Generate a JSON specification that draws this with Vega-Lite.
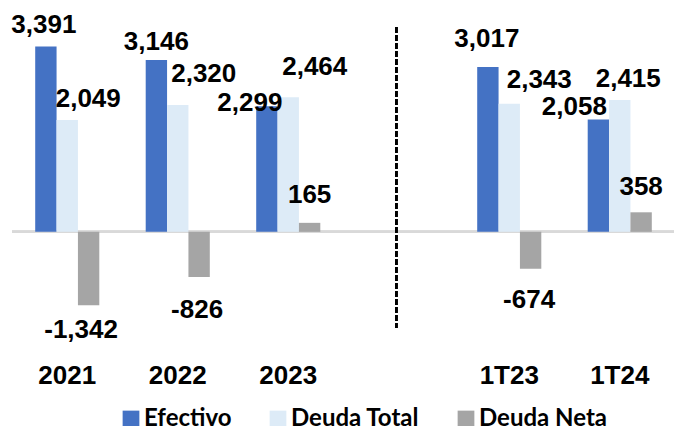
{
  "$schema": "https://vega.github.io/schema/vega-lite/v6.json",
  "width": 663,
  "height": 301,
  "autosize": "none",
  "padding": {"left": 12, "top": 27, "right": 0, "bottom": 98},
  "config": {
    "view": {"stroke": null},
    "locale": {"number": {"decimal": ".", "thousands": ",", "grouping": [3], "currency": ["$", ""], "minus": "-"}}
  },
  "data": {
    "values": [
      {"period": "2021", "series": "Efectivo", "value": 3391},
      {"period": "2021", "series": "Deuda Total", "value": 2049},
      {"period": "2021", "series": "Deuda Neta", "value": -1342},
      {"period": "2022", "series": "Efectivo", "value": 3146},
      {"period": "2022", "series": "Deuda Total", "value": 2320},
      {"period": "2022", "series": "Deuda Neta", "value": -826},
      {"period": "2023", "series": "Efectivo", "value": 2299},
      {"period": "2023", "series": "Deuda Total", "value": 2464},
      {"period": "2023", "series": "Deuda Neta", "value": 165},
      {"period": "1T23", "series": "Efectivo", "value": 3017},
      {"period": "1T23", "series": "Deuda Total", "value": 2343},
      {"period": "1T23", "series": "Deuda Neta", "value": -674},
      {"period": "1T24", "series": "Efectivo", "value": 2058},
      {"period": "1T24", "series": "Deuda Total", "value": 2415},
      {"period": "1T24", "series": "Deuda Neta", "value": 358}
    ]
  },
  "layer": [
    {
      "mark": {"type": "rule", "color": "#D9D9D9", "strokeWidth": 2},
      "encoding": {"y": {"datum": 0, "type": "quantitative", "scale": {"domain": [-1760, 3750], "nice": false, "zero": false}, "axis": null}}
    },
    {
      "mark": {"type": "rule", "color": "#000000", "strokeWidth": 2, "strokeDash": [6, 2]},
      "encoding": {"x": {"datum": " ", "type": "nominal", "bandPosition": 0.46}}
    },
    {
      "encoding": {
        "x": {
          "field": "period", "type": "nominal",
          "scale": {"domain": ["2021", "2022", "2023", " ", "1T23", "1T24"], "paddingInner": 0.42, "paddingOuter": 0.21},
          "axis": {"title": null, "domain": false, "ticks": false, "labelAngle": 0, "labelAlign": "center", "labelFont": "Liberation Sans", "labelFontWeight": "bold", "labelFontSize": 26, "labelColor": "#000000", "labelBaseline": "alphabetic", "labelPadding": 55, "labelFlush": false, "labelOverlap": false, "grid": false}
        },
        "xOffset": {"field": "series", "type": "nominal", "scale": {"domain": ["Efectivo", "Deuda Total", "Deuda Neta"], "paddingInner": 0, "paddingOuter": 0}},
        "y": {"field": "value", "type": "quantitative", "axis": null}
      },
      "layer": [
        {
          "mark": {"type": "bar"},
          "encoding": {
            "color": {
              "field": "series", "type": "nominal",
              "scale": {"domain": ["Efectivo", "Deuda Total", "Deuda Neta"], "range": ["#4472C4", "#DDEBF7", "#A5A5A5"]},
              "legend": {"title": null, "orient": "none", "direction": "horizontal", "legendX": 107, "legendY": 380, "symbolType": "square", "symbolSize": 280, "symbolStrokeWidth": 0, "labelFont": "Lato", "labelFontWeight": "bold", "labelFontSize": 24, "labelColor": "#000000", "labelOffset": 1, "columnPadding": 34, "labelLimit": 300}
            }
          }
        },
        {"transform": [{"filter": "datum.period == '2021' && datum.series == 'Efectivo'"}], "mark": {"type": "text", "dx": -2, "dy": -14, "baseline": "alphabetic", "font": "Liberation Sans", "fontWeight": "bold", "fontSize": 26, "color": "#000000"}, "encoding": {"text": {"field": "value", "type": "quantitative", "format": ","}}},
        {"transform": [{"filter": "datum.period == '2022' && datum.series == 'Efectivo'"}], "mark": {"type": "text", "dx": 0, "dy": -10, "baseline": "alphabetic", "font": "Liberation Sans", "fontWeight": "bold", "fontSize": 26, "color": "#000000"}, "encoding": {"text": {"field": "value", "type": "quantitative", "format": ","}}},
        {"transform": [{"filter": "datum.period == '2023' && datum.series == 'Efectivo'"}], "mark": {"type": "text", "dx": -17, "dy": 5, "baseline": "alphabetic", "font": "Liberation Sans", "fontWeight": "bold", "fontSize": 26, "color": "#000000"}, "encoding": {"text": {"field": "value", "type": "quantitative", "format": ","}}},
        {"transform": [{"filter": "datum.period == '1T23' && datum.series == 'Efectivo'"}], "mark": {"type": "text", "dx": -1, "dy": -20, "baseline": "alphabetic", "font": "Liberation Sans", "fontWeight": "bold", "fontSize": 26, "color": "#000000"}, "encoding": {"text": {"field": "value", "type": "quantitative", "format": ","}}},
        {"transform": [{"filter": "datum.period == '1T24' && datum.series == 'Efectivo'"}], "mark": {"type": "text", "dx": -24, "dy": -4.5, "baseline": "alphabetic", "font": "Liberation Sans", "fontWeight": "bold", "fontSize": 26, "color": "#000000"}, "encoding": {"text": {"field": "value", "type": "quantitative", "format": ","}}},
        {"transform": [{"filter": "datum.period == '2021' && datum.series == 'Deuda Total'"}], "mark": {"type": "text", "dx": 21, "dy": -13, "baseline": "alphabetic", "font": "Liberation Sans", "fontWeight": "bold", "fontSize": 26, "color": "#000000"}, "encoding": {"text": {"field": "value", "type": "quantitative", "format": ","}}},
        {"transform": [{"filter": "datum.period == '2022' && datum.series == 'Deuda Total'"}], "mark": {"type": "text", "dx": 26, "dy": -23.5, "baseline": "alphabetic", "font": "Liberation Sans", "fontWeight": "bold", "fontSize": 26, "color": "#000000"}, "encoding": {"text": {"field": "value", "type": "quantitative", "format": ","}}},
        {"transform": [{"filter": "datum.period == '2023' && datum.series == 'Deuda Total'"}], "mark": {"type": "text", "dx": 26.5, "dy": -22.3, "baseline": "alphabetic", "font": "Liberation Sans", "fontWeight": "bold", "fontSize": 26, "color": "#000000"}, "encoding": {"text": {"field": "value", "type": "quantitative", "format": ","}}},
        {"transform": [{"filter": "datum.period == '1T23' && datum.series == 'Deuda Total'"}], "mark": {"type": "text", "dx": 30, "dy": -16, "baseline": "alphabetic", "font": "Liberation Sans", "fontWeight": "bold", "fontSize": 26, "color": "#000000"}, "encoding": {"text": {"field": "value", "type": "quantitative", "format": ","}}},
        {"transform": [{"filter": "datum.period == '1T24' && datum.series == 'Deuda Total'"}], "mark": {"type": "text", "dx": 8.5, "dy": -13.3, "baseline": "alphabetic", "font": "Liberation Sans", "fontWeight": "bold", "fontSize": 26, "color": "#000000"}, "encoding": {"text": {"field": "value", "type": "quantitative", "format": ","}}},
        {"transform": [{"filter": "datum.period == '2021' && datum.series == 'Deuda Neta'"}], "mark": {"type": "text", "dx": -7.5, "dy": 32.7, "baseline": "alphabetic", "font": "Liberation Sans", "fontWeight": "bold", "fontSize": 26, "color": "#000000"}, "encoding": {"text": {"field": "value", "type": "quantitative", "format": ","}}},
        {"transform": [{"filter": "datum.period == '2022' && datum.series == 'Deuda Neta'"}], "mark": {"type": "text", "dx": -2, "dy": 41, "baseline": "alphabetic", "font": "Liberation Sans", "fontWeight": "bold", "fontSize": 26, "color": "#000000"}, "encoding": {"text": {"field": "value", "type": "quantitative", "format": ","}}},
        {"transform": [{"filter": "datum.period == '2023' && datum.series == 'Deuda Neta'"}], "mark": {"type": "text", "dx": 0, "dy": -20, "baseline": "alphabetic", "font": "Liberation Sans", "fontWeight": "bold", "fontSize": 26, "color": "#000000"}, "encoding": {"text": {"field": "value", "type": "quantitative", "format": ","}}},
        {"transform": [{"filter": "datum.period == '1T23' && datum.series == 'Deuda Neta'"}], "mark": {"type": "text", "dx": -1.5, "dy": 39, "baseline": "alphabetic", "font": "Liberation Sans", "fontWeight": "bold", "fontSize": 26, "color": "#000000"}, "encoding": {"text": {"field": "value", "type": "quantitative", "format": ","}}},
        {"transform": [{"filter": "datum.period == '1T24' && datum.series == 'Deuda Neta'"}], "mark": {"type": "text", "dx": 0, "dy": -17.4, "baseline": "alphabetic", "font": "Liberation Sans", "fontWeight": "bold", "fontSize": 26, "color": "#000000"}, "encoding": {"text": {"field": "value", "type": "quantitative", "format": ","}}}
      ]
    }
  ]
}
